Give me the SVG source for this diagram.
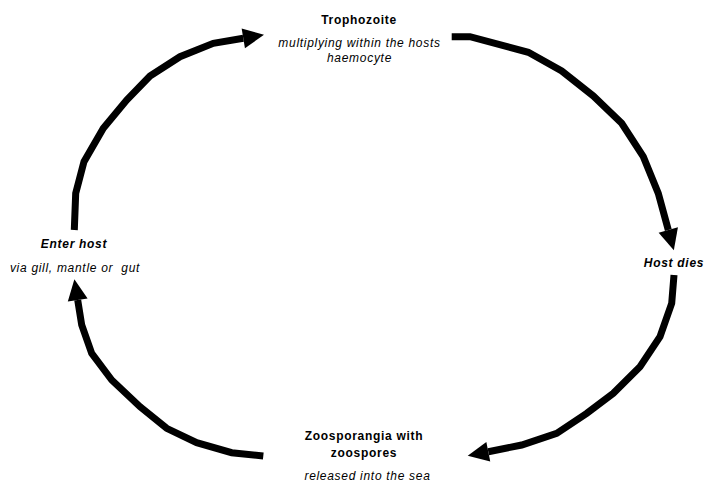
<svg xmlns="http://www.w3.org/2000/svg" width="706" height="485" viewBox="0 0 706 485">
<defs>
<style>
text{font-family:"Liberation Sans",Arial,sans-serif;font-size:12px;fill:#000;text-anchor:middle;letter-spacing:0.7px}
.b{font-weight:bold}
.i{font-style:italic}
.arc{fill:none;stroke:#000;stroke-width:7;stroke-linejoin:miter;stroke-linecap:butt;marker-end:url(#ah)}
</style>
<marker id="ah" markerUnits="userSpaceOnUse" viewBox="0 -11 22 22" markerWidth="22" markerHeight="22" refX="0" refY="0" orient="auto" overflow="visible">
<path d="M0,-10 L21,0 L0,10 Z" fill="#000"/>
</marker>
</defs>
<rect width="706" height="485" fill="#fff"/>
<g id="connectors">
<polyline class="arc" points="74.3,230 75.7,193.3 84,161.7 103.3,128.3 126.7,100 150,76 180,56.7 213.3,43.3 243.3,38.3"/>
<polyline class="arc" points="451.7,36.7 470,36.7 528.3,52.3 561.7,71 593.3,96 621.7,123.3 643.3,156.7 658.3,193.3 668.3,230"/>
<polyline class="arc" points="674,275 671.7,303.3 660,336.7 640,366.7 613.3,393.3 586.7,413.3 556.7,433.3 521.7,445 488.3,451.7"/>
<polyline class="arc" points="263.3,456 231.7,452.7 196.7,442.7 166.7,428.3 140,406.7 111.7,380 91.7,353.3 81.7,325 77.7,300"/>
</g>
<g id="trophozoite">
<text class="b" x="359" y="24">Trophozoite</text>
<text class="i" x="359.5" y="46.7">multiplying within the hosts</text>
<text class="i" x="359.5" y="61.7">haemocyte</text>
</g>
<g id="host-dies">
<text class="b i" x="674" y="266.7">Host dies</text>
</g>
<g id="zoosporangia">
<text class="b" x="364" y="440">Zoosporangia with</text>
<text class="b" x="364" y="456.7">zoospores</text>
<text class="i" x="367.5" y="480">released into the sea</text>
</g>
<g id="enter-host">
<text class="b i" x="74" y="248.3">Enter host</text>
<text class="i" x="75" y="271.7" style="white-space:pre">via gill, mantle or  gut</text>
</g>
</svg>
